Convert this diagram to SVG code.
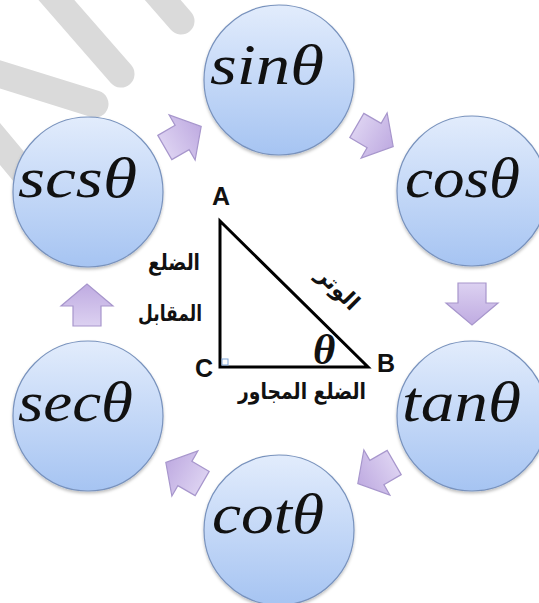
<svg xmlns="http://www.w3.org/2000/svg" width="539" height="603" viewBox="0 0 539 603">
  <defs>
    <linearGradient id="gCircle" x1="0" y1="0" x2="0" y2="1">
      <stop offset="0" stop-color="#e2ecfc"/>
      <stop offset="1" stop-color="#a6c4f2"/>
    </linearGradient>
    <linearGradient id="gArrow" x1="0" y1="0" x2="1" y2="0">
      <stop offset="0" stop-color="#dcd1f1"/>
      <stop offset="1" stop-color="#bfabe1"/>
    </linearGradient>
    <filter id="shadow" x="-20%" y="-20%" width="140%" height="140%">
      <feDropShadow dx="0" dy="2" stdDeviation="1.5" flood-color="#000" flood-opacity="0.25"/>
    </filter>
    <path id="arrow" d="M-21,-14 L-1,-14 L-1,-26 L21,0 L-1,26 L-1,14 L-21,14 Z"/>
  </defs>
  <style>
    .stripe { stroke: #dadada; stroke-width: 27; stroke-linecap: round; fill: none; }
    .node circle { fill: url(#gCircle); stroke: #7892bd; stroke-width: 1.2; filter: url(#shadow); }
    .node text { font-family: "Liberation Serif", "DejaVu Serif", serif; font-style: italic; font-size: 56px; fill: #111; }
    .arr use { fill: url(#gArrow); stroke: #a796cc; stroke-width: 1.2; stroke-linejoin: miter; }
    .lbl { font-family: "Liberation Sans", Arial, sans-serif; font-weight: bold; font-size: 25px; fill: #111; }
    .ar { font-family: "DejaVu Sans", "Noto Sans", sans-serif; font-weight: bold; font-size: 22px; fill: #111; text-anchor: middle; }
  </style>

  <rect width="539" height="603" fill="#ffffff"/>

  <g id="stripes">
    <line class="stripe" x1="25" y1="-36" x2="121" y2="74"/>
    <line class="stripe" x1="128" y1="-40" x2="181" y2="21"/>
    <line class="stripe" x1="-30" y1="65" x2="95" y2="104"/>
    <line class="stripe" x1="-30" y1="108" x2="45" y2="198"/>
  </g>

  <g id="connectors" class="arr">
    <use href="#arrow" transform="translate(183,137) rotate(-30)"/>
    <use href="#arrow" transform="translate(375,136) rotate(30)"/>
    <use href="#arrow" transform="translate(472,304) rotate(90)"/>
    <use href="#arrow" transform="translate(376,473) rotate(150)"/>
    <use href="#arrow" transform="translate(184,473) rotate(210)"/>
    <use href="#arrow" transform="translate(87,305) rotate(-90)"/>
  </g>

  <g id="node-sin" class="node">
    <circle cx="279" cy="80" r="75"/>
    <text x="210" y="84" textLength="114" lengthAdjust="spacingAndGlyphs">sinθ</text>
  </g>
  <g id="node-cos" class="node">
    <circle cx="472" cy="191" r="75"/>
    <text x="405" y="197" textLength="115" lengthAdjust="spacingAndGlyphs">cosθ</text>
  </g>
  <g id="node-tan" class="node">
    <circle cx="472" cy="416" r="75"/>
    <text x="402" y="421" textLength="119" lengthAdjust="spacingAndGlyphs">tanθ</text>
  </g>
  <g id="node-cot" class="node">
    <circle cx="279" cy="530" r="75"/>
    <text x="212" y="533" textLength="112" lengthAdjust="spacingAndGlyphs">cotθ</text>
  </g>
  <g id="node-sec" class="node">
    <circle cx="88" cy="416" r="75"/>
    <text x="18" y="421" textLength="115" lengthAdjust="spacingAndGlyphs">secθ</text>
  </g>
  <g id="node-scs" class="node">
    <circle cx="88" cy="192" r="75"/>
    <text x="18" y="197" textLength="119" lengthAdjust="spacingAndGlyphs">scsθ</text>
  </g>

  <g id="triangle">
    <polygon points="220,221 220,367 368,367" fill="none" stroke="#000" stroke-width="3" stroke-linejoin="miter"/>
    <rect x="222" y="359" width="6" height="6" fill="none" stroke="#7fa6d8" stroke-width="1"/>
    <text class="lbl" x="221" y="205" text-anchor="middle">A</text>
    <text class="lbl" x="204" y="377" text-anchor="middle">C</text>
    <text class="lbl" x="386" y="372" text-anchor="middle">B</text>
    <text x="313" y="364" font-family="Liberation Serif, serif" font-style="italic" font-weight="bold" font-size="43" fill="#111">θ</text>
    <text class="ar" x="174" y="270" textLength="52" lengthAdjust="spacingAndGlyphs">الضلع</text>
    <text class="ar" x="170" y="321" textLength="64" lengthAdjust="spacingAndGlyphs">المقابل</text>
    <text class="ar" x="0" y="0" transform="translate(333,294) rotate(45)" textLength="50" lengthAdjust="spacingAndGlyphs">الوتر</text>
    <text class="ar" x="302" y="399" textLength="128" lengthAdjust="spacingAndGlyphs">الضلع المجاور</text>
  </g>
</svg>
